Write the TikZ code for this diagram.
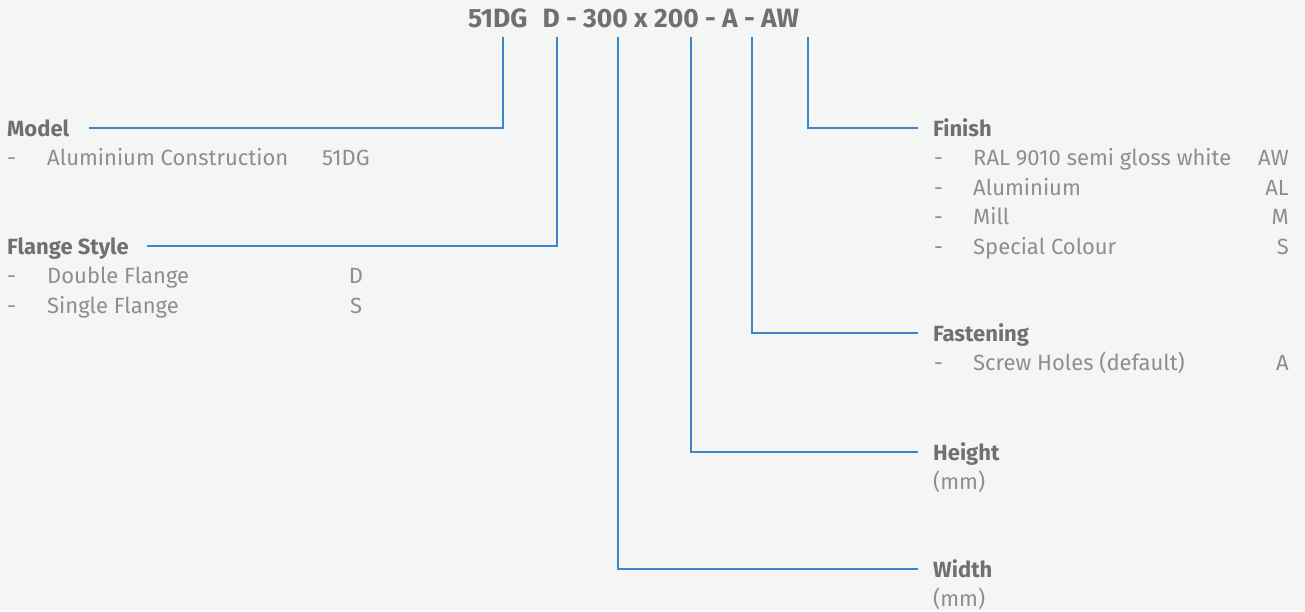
\documentclass[tikz,border=0pt]{standalone}
\usepackage{fontspec}
\setmainfont{Fira Sans}
\usepackage{xcolor}
\definecolor{bgcol}{HTML}{F4F5F5}
\definecolor{linecol}{HTML}{3D87C9}
\definecolor{headcol}{HTML}{736F6C}
\definecolor{itemcol}{HTML}{8E8E8E}
\tikzset{
  head/.style={anchor=west,inner sep=0pt,text height=16pt,text depth=0pt,
    font=\fontsize{22}{22}\selectfont\bfseries,text=headcol},
  item/.style={anchor=west,inner sep=0pt,text height=16pt,text depth=0pt,
    font=\fontsize{22}{22}\selectfont,text=itemcol},
  code/.style={item,anchor=east},
  link/.style={draw=linecol,line width=1.4pt}
}

\begin{document}
\begin{tikzpicture}[x=1pt,y=-1pt]
  \fill[bgcol] (0,0) rectangle (1305,611);
  \useasboundingbox (0,0) rectangle (1305,611);
  \node[head,font=\fontsize{26.5}{26.5}\selectfont\bfseries,text height=19pt] (partno) at (468,18)
    {51DG\hspace{15pt}D - 300 x 200 - A - AW};
  \foreach \nm/\x in {model/503,flange/557,width/618,height/691,fasten/752,finish/808}
    \coordinate (t-\nm) at (\x,37);
  % left side
  \node[head] (model) at (7,128) {Model};
  \node[item] (model-d1) at (7,157) {-};
  \node[item] (model-1) at (47,157) {Aluminium Construction};
  \node[item] (model-c1) at (322,157) {51DG};
  \node[head] (flange) at (7,246) {Flange Style};
  \foreach \txt/\c [count=\i] in {Double Flange/D,Single Flange/S}{
    \node[item] (flange-d\i) at (7,{246+29.5*\i}) {-};
    \node[item] (flange-\i) at (47,{246+29.5*\i}) {\txt};
    \node[item,anchor=center] (flange-c\i) at (356,{246+29.5*\i}) {\c};
  }
  % right side
  \node[head] (finish) at (933,128) {Finish};
  \foreach \txt/\c [count=\i] in {RAL 9010 semi gloss white/AW,Aluminium/AL,Mill/M,Special Colour/S}{
    \node[item] (finish-d\i) at (934,{128+29.5*\i}) {-};
    \node[item] (finish-\i) at (973,{128+29.5*\i}) {\txt};
    \node[code] (finish-c\i) at (1289,{128+29.5*\i}) {\c};
  }
  \node[head] (fasten) at (933,333) {Fastening};
  \node[item] (fasten-d1) at (934,362.5) {-};
  \node[item] (fasten-1) at (973,362.5) {Screw Holes (default)};
  \node[code] (fasten-c1) at (1289,362.5) {A};
  \node[head] (height) at (933,452) {Height};
  \node[item] (height-1) at (933,481.5) {(mm)};
  \node[head] (width) at (933,569) {Width};
  \node[item] (width-1) at (933,598.5) {(mm)};
  % connectors
  \draw[link] (t-model) |- ([xshift=20pt]model.east);
  \draw[link] (t-flange) |- ([xshift=18pt]flange.east);
  \foreach \nm in {finish,fasten,height,width}
    \draw[link] (t-\nm) |- ([xshift=-15pt]\nm.west);
\end{tikzpicture}
\end{document}
